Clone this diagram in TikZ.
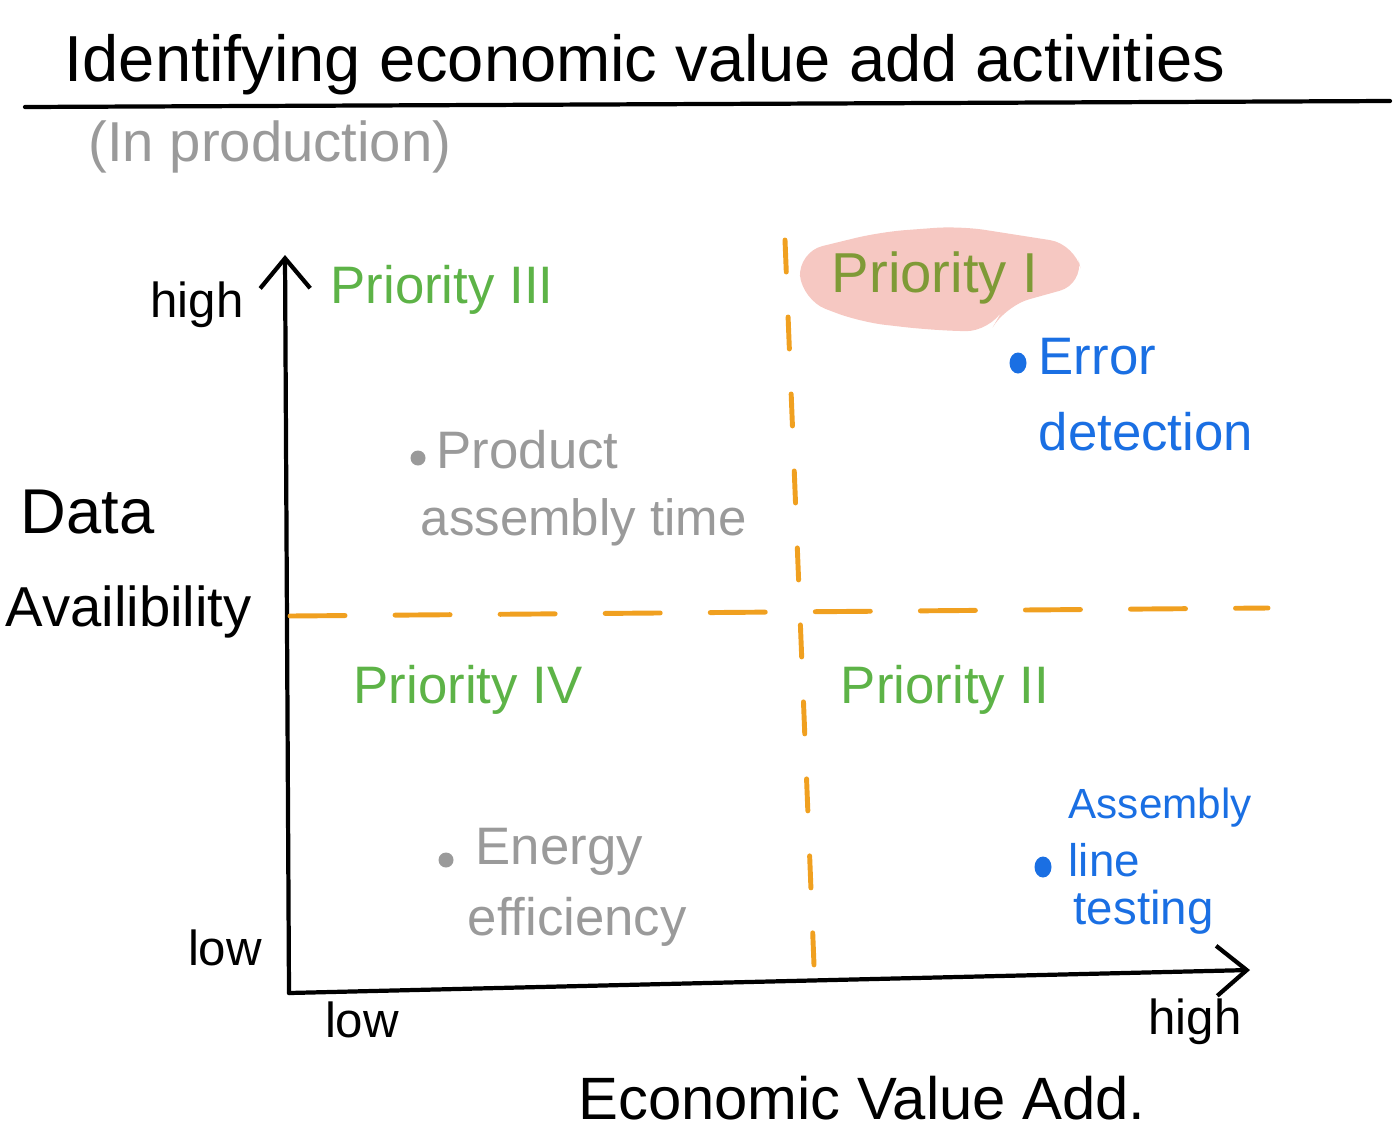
\documentclass[tikz,border=0pt]{standalone}
\usepackage{fontspec}
\setmainfont{Liberation Sans}
\usetikzlibrary{arrows.meta}
\usetikzlibrary{shapes.geometric}

\definecolor{prgreen}{HTML}{5DB347}
\definecolor{prolive}{HTML}{7F9A36}
\definecolor{prpink}{HTML}{F6C8C2}
\definecolor{prblue}{HTML}{1A6FE3}
\definecolor{prgray}{HTML}{9A9A9A}
\definecolor{prorange}{HTML}{F0A020}

\tikzset{
    hand/.style={inner sep=0pt, font=\fontsize{15}{18}\selectfont},
    pen/.style={line width=1.2pt, line cap=round, line join=round},
    quad/.style={prorange, line width=1.4pt, line cap=round},
    prio/.style={hand, text=prgreen},
    axislbl/.style={hand, font=\fontsize{14}{17}\selectfont},
    dotgray/.style={circle, fill=prgray, inner sep=0pt, minimum size=0.15cm},
    dotblue/.style={ellipse, fill=prblue, inner sep=0pt, minimum width=0.17cm, minimum height=0.21cm},
}

\begin{document}
\begin{tikzpicture}[x=0.01cm, y=-0.01cm]
    \useasboundingbox (0,0) rectangle (1400,1145);

    % -------------------------------
    % title
    % -------------------------------
    \node[hand, font=\fontsize{18.5}{22}\selectfont] (title) at (645,65) {Identifying economic value add activities};
    \coordinate (ulA) at (25,107);
    \coordinate (ulB) at (1390,101);
    \draw[pen] (ulA) -- (ulB);
    \node[hand, text=prgray, font=\fontsize{16}{19}\selectfont] (sub) at (270,147) {(In production)};

    % -------------------------------
    % axes
    % -------------------------------
    \coordinate (orig) at (289,993);
    \coordinate (ytop) at (285,255);
    \coordinate (xend) at (1250,970);
    \draw[pen, -{Straight Barb[length=3mm, width=5mm]}] (orig) -- (ytop);
    \draw[pen, -{Straight Barb[length=3mm, width=5mm]}] (orig) -- (xend);

    \node[axislbl] (yhigh) at (197,305) {high};
    \node[axislbl] (ylow) at (225,948) {low};
    \node[axislbl] (xlow) at (362,1020) {low};
    \node[axislbl] (xhigh) at (1195,1022) {high};

    \node[hand, font=\fontsize{18}{22}\selectfont, anchor=west] (data) at (20,512) {Data};
    \node[hand, font=\fontsize{16}{19}\selectfont, anchor=west] (avail) at (5,612) {Availibility};
    \node[hand, font=\fontsize{17}{20}\selectfont] (evadd) at (862,1098) {Economic Value Add.};

    % -------------------------------
    % quadrants
    % -------------------------------
    \coordinate (hA) at (290,616);
    \coordinate (hB) at (1268,608);
    \draw[quad, dash pattern=on 0.55cm off 0.5cm] (hA) -- (hB);
    \coordinate (vA) at (785,240);
    \coordinate (vB) at (815,990);
    \draw[quad, dash pattern=on 0.32cm off 0.45cm] (vA) -- (vB);

    % highlight behind priority I
    \fill[prpink, rounded corners=0.25cm]
        (798,252) -- (880,232) -- (960,226) -- (1075,244) -- (1084,284)
        -- (1005,306) -- (990,332) -- (930,330) -- (860,322) -- (802,300) -- cycle;

    \node[prio] (p3) at (442,290) {Priority III};
    \node[prio, text=prolive, font=\fontsize{16}{19}\selectfont] (p1) at (935,278) {Priority I};
    \node[prio] (p4) at (468,690) {Priority IV};
    \node[prio] (p2) at (945,690) {Priority II};

    % -------------------------------
    % activities
    % -------------------------------
    \node[dotgray] (d1) at (418,458) {};
    \node[hand, text=prgray, anchor=west] (t1a) at (436,450) {Product};
    \node[hand, text=prgray, font=\fontsize{14.5}{17}\selectfont, anchor=west] (t1b) at (420,522) {assembly time};

    \node[dotgray] (d2) at (446,860) {};
    \node[hand, text=prgray, anchor=west] (t2a) at (475,852) {Energy};
    \node[hand, text=prgray, anchor=west] (t2b) at (467,922) {efficiency};

    \node[dotblue] (d3) at (1018,363) {};
    \node[hand, text=prblue, anchor=west] (t3a) at (1038,357) {Error};
    \node[hand, text=prblue, anchor=west] (t3b) at (1038,432) {detection};

    \node[dotblue] (d4) at (1043,867) {};
    \node[hand, text=prblue, font=\fontsize{12}{15}\selectfont, anchor=west] (t4a) at (1068,808) {Assembly};
    \node[hand, text=prblue, font=\fontsize{13}{16}\selectfont, anchor=west] (t4b) at (1068,860) {line};
    \node[hand, text=prblue, font=\fontsize{13.5}{16}\selectfont, anchor=west] (t4c) at (1073,912) {testing};

\end{tikzpicture}
\end{document}
